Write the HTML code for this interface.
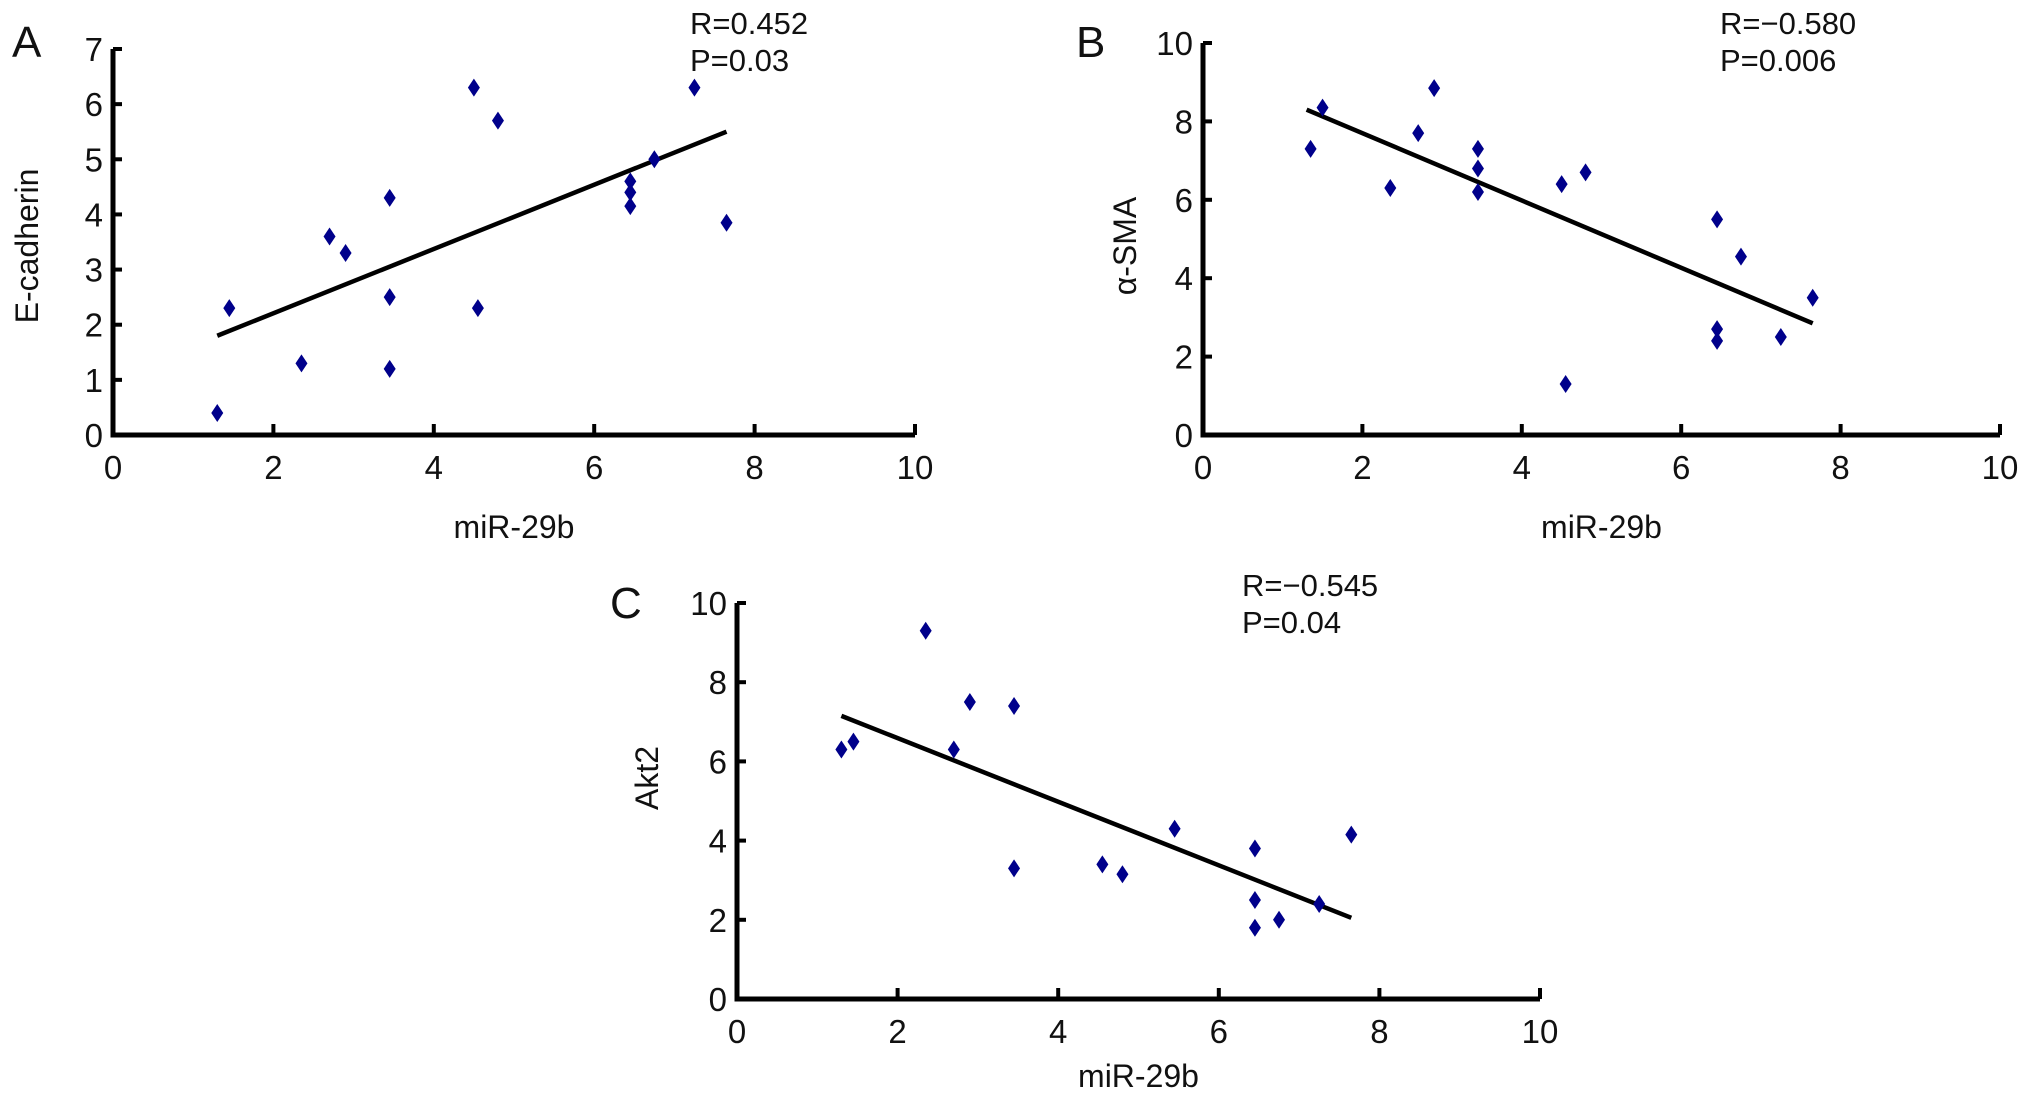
<!DOCTYPE html>
<html><head><meta charset="utf-8"><style>
html,body{margin:0;padding:0;background:#fff;}
svg{display:block;font-family:"Liberation Sans",Arial,sans-serif;}
</style></head><body>
<svg id="fig" width="2032" height="1100" viewBox="0 0 2032 1100" xmlns="http://www.w3.org/2000/svg"></svg>
<script>
const xTicks = [0,2,4,6,8,10];
const aYTicks = [0,1,2,3,4,5,6,7];
const bYTicks = [0,2,4,6,8,10];
const cYTicks = [0,2,4,6,8,10];
const aX = [1.3,1.45,2.35,2.7,2.9,3.45,3.45,3.45,4.5,4.8,4.55,6.45,6.45,6.45,6.75,7.25,7.65];
const aY = [0.4,2.3,1.3,3.6,3.3,4.3,2.5,1.2,6.3,5.7,2.3,4.6,4.4,4.15,5.0,6.3,3.85];
const aFit = [[1.3,1.8],[7.65,5.5]];
const bX = [1.35,1.5,2.35,2.7,2.9,3.45,3.45,3.45,4.5,4.8,4.55,6.45,6.45,6.45,6.75,7.25,7.65];
const bY = [7.3,8.35,6.3,7.7,8.85,7.3,6.8,6.2,6.4,6.7,1.3,5.5,2.7,2.4,4.55,2.5,3.5];
const bFit = [[1.3,8.3],[7.65,2.85]];
const cX = [1.3,1.45,2.35,2.7,2.9,3.45,3.45,4.55,4.8,5.45,6.45,6.45,6.45,6.75,7.25,7.65];
const cY = [6.3,6.5,9.3,6.3,7.5,7.4,3.3,3.4,3.15,4.3,3.8,2.5,1.8,2.0,2.4,4.15];
const cFit = [[1.3,7.15],[7.65,2.05]];

const NS='http://www.w3.org/2000/svg';
const svg=document.getElementById('fig');
function mk(tag,attrs,parent,txt){const e=document.createElementNS(NS,tag);for(const k in attrs)e.setAttribute(k,attrs[k]);if(txt!==undefined)e.textContent=txt;(parent||svg).appendChild(e);return e;}

function panel(o){
  const g=mk('g',{});
  
  
  const sx=v=>o.x0+(v-0)/10*(o.x1-o.x0);
  const sy=v=>o.y0-(v-0)/o.ymax*(o.y0-o.y1);
  const ax=mk('path',{d:`M${o.x0},${o.y1} L${o.x0},${o.y0} L${o.x1},${o.y0}`,fill:'none',stroke:'#000','stroke-width':5},g);
  
  
  xTicks.forEach(t=>{
    const x=sx(t);
    const tk=mk('line',{x1:x,x2:x,y1:o.y0,y2:o.y0-11,stroke:'#000','stroke-width':4},g);
    
    
    const tl=mk('text',{x:x,y:o.y0+44,'font-size':33,'text-anchor':'middle',fill:'#111'},g,String(t));
    
    
  });
  o.yt.forEach(t=>{
    const y=sy(t);
    const tk=mk('line',{x1:o.x0,x2:o.x0+9,y1:y,y2:y,stroke:'#000','stroke-width':4},g);
    
    
    const tl=mk('text',{x:o.x0-10,y:y+12,'font-size':33,'text-anchor':'end',fill:'#111'},g,String(t));
    
    
  });
  const fl=mk('line',{x1:sx(o.fit[0][0]),y1:sy(o.fit[0][1]),x2:sx(o.fit[1][0]),y2:sy(o.fit[1][1]),stroke:'#000','stroke-width':4.5},g);
  
  
  o.xs.forEach((xv,i)=>{
    const x=sx(xv),y=sy(o.ys[i]);
    const p=mk('path',{d:`M${x},${y-9} L${x+6},${y} L${x},${y+9} L${x-6},${y} Z`,fill:'#00008b'},g);
    
    
  });
  const pl=mk('text',{x:o.lx,y:o.ly,'font-size':44,fill:'#111'},g,o.id);
  
  
  const r=mk('text',{x:o.rx,y:o.ry,'font-size':31,fill:'#111'},g,o.r);
  
  
  const pv=mk('text',{x:o.rx,y:o.ry+37,'font-size':31,fill:'#111'},g,o.p);
  
  
  const xl=mk('text',{x:(o.x0+o.x1)/2,y:o.y0+o.xlo,'font-size':32,'text-anchor':'middle',fill:'#111'},g,'miR-29b');
  
  
  const yl=mk('text',{x:0,y:0,'font-size':32,'text-anchor':'middle',fill:'#111',transform:`translate(${o.ylx},${o.yly}) rotate(-90)`},g,o.yt_);
  
  
}
panel({id:'A',x0:113,x1:915,y0:435,y1:49,ymax:7,yt:aYTicks,xs:aX,ys:aY,fit:aFit,lx:12,ly:57,rx:690,ry:34,r:'R=0.452',p:'P=0.03',ylx:38,yly:246,yt_:'E-cadherin',xlo:103});
panel({id:'B',x0:1203,x1:2000,y0:435,y1:43,ymax:10,yt:bYTicks,xs:bX,ys:bY,fit:bFit,lx:1076,ly:57,rx:1720,ry:34,r:'R=\u22120.580',p:'P=0.006',ylx:1136,yly:246,yt_:'\u03b1-SMA',xlo:103});
panel({id:'C',x0:737,x1:1540,y0:999,y1:603,ymax:10,yt:cYTicks,xs:cX,ys:cY,fit:cFit,lx:610,ly:618,rx:1242,ry:596,r:'R=\u22120.545',p:'P=0.04',ylx:658,yly:778,yt_:'Akt2',xlo:88});
</script>
</body></html>
